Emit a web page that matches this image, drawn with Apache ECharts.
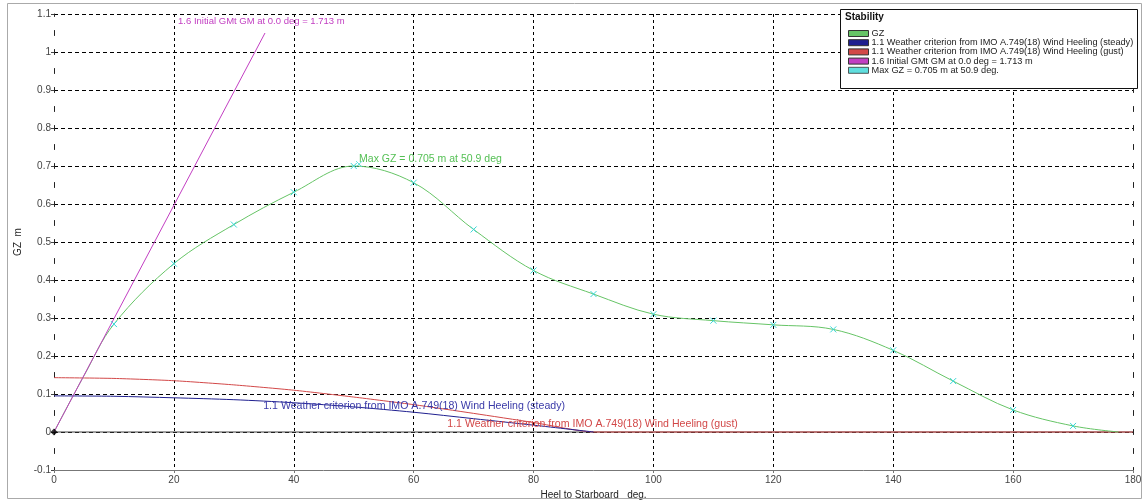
<!DOCTYPE html>
<html>
<head>
<meta charset="utf-8">
<script src="https://cdn.jsdelivr.net/npm/echarts@6/dist/echarts.min.js"></script>
<style>
  html, body { margin: 0; padding: 0; background: #fff; }
  #stabilityChart { width: 1143px; height: 500px; }
</style>
</head>
<body>
<div id="stabilityChart"></div>
<script>
// heel angles (deg) and GZ (m)
const gzAngles = [0, 5, 10, 20, 30, 40, 50, 60, 70, 80, 90, 100, 110, 120, 130, 140, 150, 160, 170, 177.6];
const gzValues = [0, 0.148, 0.284, 0.443, 0.546, 0.631, 0.700, 0.656, 0.533, 0.425, 0.363, 0.310, 0.293, 0.282, 0.270, 0.215, 0.134, 0.058, 0.016, 0];
// points drawn with a cross marker
const gzMarked = [false, false, true, true, true, true, true, true, true, true, true, true, true, true, true, true, true, true, true, false];

const steadyAngles = [0, 10, 20, 30, 40, 50, 60, 70, 80, 90];
const steadyValues = [0.095, 0.094, 0.090, 0.085, 0.077, 0.066, 0.052, 0.035, 0.018, 0];

const gustAngles = [0, 10, 20, 30, 40, 50, 60, 70, 80, 90, 180];
const gustValues = [0.143, 0.141, 0.135, 0.124, 0.110, 0.092, 0.072, 0.049, 0.025, 0, 0];

const gmAngles = [0, 35.2];
const gmValues = [0, 1.05];

const maxGzAngle = [50.9];
const maxGzValue = [0.705];

const xTicks = [0, 20, 40, 60, 80, 100, 120, 140, 160, 180];
const yTicks = [-0.1, 0, 0.1, 0.2, 0.3, 0.4, 0.5, 0.6, 0.7, 0.8, 0.9, 1, 1.1];

const seriesNames = [
    'GZ',
    '1.1 Weather criterion from IMO A.749(18) Wind Heeling (steady)',
    '1.1 Weather criterion from IMO A.749(18) Wind Heeling (gust)',
    '1.6 Initial GMt GM at 0.0 deg = 1.713 m',
    'Max GZ = 0.705 m at 50.9 deg.',
];

// in-plot labels, anchored at their left end (deg, m)
const noteTexts = [
    '1.6 Initial GMt GM at 0.0 deg = 1.713 m',
    'Max GZ = 0.705 m at 50.9 deg',
    '1.1 Weather criterion from IMO A.749(18) Wind Heeling (steady)',
    '1.1 Weather criterion from IMO A.749(18) Wind Heeling (gust)',
];
const noteX = [20.7, 50.9, 34.9, 65.6];
const noteY = [1.08, 0.718, 0.068, 0.02];

const FONT = '"Liberation Sans", Arial, sans-serif';
const colGreen = '#66c466',
    colBlue = '#1f1f8f',
    colRed = '#d24848',
    colMagenta = '#c23ec2',
    colCyan = '#38d6d6';
const noteColors = [colMagenta, '#55c055', '#3a3aa8', '#d24848'];
const noteSizes = [9.5, 10.5, 10.6, 10.6];
const crossPath = 'path://M0,0L8,8M8,0L0,8';

const pairs = (xs, ys) => xs.map((x, i) => [x, ys[i]]);

function renderChart() {
    const myChart = echarts.init(document.getElementById('stabilityChart'), null, { renderer: 'canvas' });

    const gzData = gzAngles.map((x, i) => ({
        value: [x, gzValues[i]],
        symbol: gzMarked[i] ? crossPath : 'none',
    }));

    const xSplitColors = xTicks.map((t, i) => (i === 0 || i === xTicks.length - 1 ? 'rgba(0,0,0,0)' : '#000'));
    const ySplitColors = yTicks.map((t, i) => (i === 0 ? 'rgba(0,0,0,0)' : '#000'));
    const swatch = (c) => ({ color: c, borderColor: '#333', borderWidth: 1 });

    const option = {
        animation: false,
        textStyle: { fontFamily: FONT },
        grid: { left: 54, right: 10, top: 14, bottom: 30, outerBoundsMode: 'none' },
        legend: {
            orient: 'vertical',
            left: 843,
            top: 24,
            z: 6,
            itemWidth: 20,
            itemHeight: 6,
            itemGap: 0.2,
            selectedMode: false,
            icon: 'rect',
            textStyle: { fontSize: 9.2, lineHeight: 7, color: '#222', fontFamily: FONT, padding: [0, 0, 0, -2] },
            data: [
                { name: seriesNames[0], itemStyle: swatch(colGreen) },
                { name: seriesNames[1], itemStyle: swatch(colBlue) },
                { name: seriesNames[2], itemStyle: swatch(colRed) },
                { name: seriesNames[3], itemStyle: swatch(colMagenta) },
                { name: seriesNames[4], itemStyle: swatch(colCyan) },
            ],
        },
        xAxis: {
            type: 'value',
            min: 0,
            max: 180,
            interval: 20,
            name: 'Heel to Starboard   deg.',
            nameLocation: 'middle',
            nameGap: 14,
            nameTextStyle: { color: '#222', fontSize: 10 },
            axisLine: { onZero: false, lineStyle: { color: '#777', width: 1 } },
            axisTick: { show: true, length: 3, lineStyle: { color: '#777' } },
            axisLabel: { color: '#444', fontSize: 10, margin: 5 },
            splitLine: { show: true, lineStyle: { color: xSplitColors, type: [3, 3], width: 1 } },
        },
        yAxis: [
            {
                type: 'value',
                min: -0.1,
                max: 1.1,
                interval: 0.1,
                name: 'GZ  m',
                nameLocation: 'middle',
                nameGap: 31,
                nameTextStyle: { color: '#222', fontSize: 10 },
                axisLine: { show: true, onZero: false, lineStyle: { color: '#222', type: [5, 14], dashOffset: 2.5 } },
                axisTick: { show: true, length: 3, inside: false, lineStyle: { color: '#444' } },
                axisLabel: {
                    color: '#444',
                    fontSize: 10,
                    margin: 3,
                    formatter: (v) => String(+v.toFixed(2)),
                },
                splitLine: { show: true, lineStyle: { color: ySplitColors, type: [4, 3], width: 1 } },
            },
            {
                type: 'value',
                position: 'right',
                min: -0.1,
                max: 1.1,
                interval: 0.1,
                axisLine: { show: true, onZero: false, lineStyle: { color: '#222', type: [5, 14], dashOffset: 2.5 } },
                axisTick: { show: false },
                axisLabel: { show: false },
                splitLine: { show: false },
            },
        ],
        series: [
            {
                name: 'zero',
                type: 'line',
                silent: true,
                data: [[0, 0], [180, 0]],
                showSymbol: false,
                lineStyle: { color: '#444', width: 1.2 },
                z: 1,
            },
            {
                name: seriesNames[0],
                type: 'line',
                data: gzData,
                smooth: 0.35,
                symbolSize: 6,
                lineStyle: { color: colGreen, width: 1 },
                itemStyle: { color: 'rgba(0,0,0,0)', borderColor: colCyan, borderWidth: 1 },
                z: 3,
            },
            {
                name: seriesNames[1],
                type: 'line',
                data: pairs(steadyAngles, steadyValues),
                smooth: 0.3,
                showSymbol: false,
                lineStyle: { color: colBlue, width: 1 },
                itemStyle: { color: colBlue },
                z: 3,
            },
            {
                name: seriesNames[2],
                type: 'line',
                data: pairs(gustAngles, gustValues),
                smooth: 0.2,
                showSymbol: false,
                lineStyle: { color: colRed, width: 1 },
                itemStyle: { color: colRed },
                z: 2,
            },
            {
                name: seriesNames[3],
                type: 'line',
                data: pairs(gmAngles, gmValues),
                showSymbol: false,
                lineStyle: { color: colMagenta, width: 1 },
                itemStyle: { color: colMagenta },
                z: 3,
            },
            {
                name: seriesNames[4],
                type: 'scatter',
                data: pairs(maxGzAngle, maxGzValue),
                symbol: crossPath,
                symbolSize: 6,
                itemStyle: { color: 'rgba(0,0,0,0)', borderColor: colCyan, borderWidth: 1 },
                z: 4,
            },
            {
                name: 'origin',
                type: 'scatter',
                silent: true,
                data: [[0, 0]],
                symbol: 'diamond',
                symbolSize: 7,
                itemStyle: { color: '#000' },
                z: 5,
            },
        ],
    };
    myChart.setOption(option);

    // outer frame, legend box with its title, and the in-plot notes
    const graphics = [
        {
            type: 'rect',
            z: 5,
            shape: { x: 7.5, y: 3.5, width: 1134, height: 495 },
            style: { fill: 'none', stroke: '#aaa', lineWidth: 1 },
            silent: true,
        },
        {
            type: 'rect',
            z: 5,
            shape: { x: 840.5, y: 9.5, width: 297, height: 79 },
            style: { fill: '#fff', stroke: '#111', lineWidth: 1 },
            silent: true,
        },
        {
            type: 'text',
            z: 6,
            x: 845,
            y: 12,
            style: { text: 'Stability', fill: '#111', font: 'bold 10px ' + FONT },
            silent: true,
        },
    ];
    noteTexts.forEach((t, i) => {
        const p = myChart.convertToPixel({ gridIndex: 0 }, [noteX[i], noteY[i]]);
        graphics.push({
            type: 'text',
            z: 6,
            x: p[0],
            y: p[1],
            style: {
                text: t,
                fill: noteColors[i],
                font: noteSizes[i] + 'px ' + FONT,
                textAlign: 'left',
                textVerticalAlign: 'middle',
            },
            silent: true,
        });
    });
    myChart.setOption({ graphic: graphics });
}

renderChart();
</script>
</body>
</html>
